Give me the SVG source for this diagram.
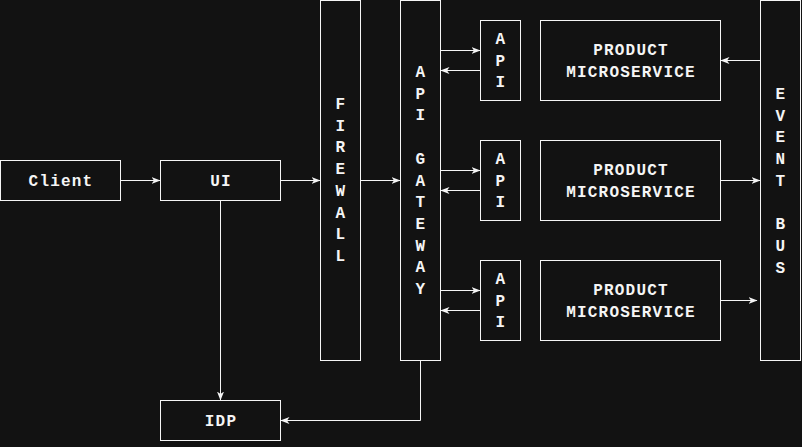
<svg xmlns="http://www.w3.org/2000/svg" width="802" height="447" viewBox="0 0 802 447">
<style>
.n{fill:#121212;stroke:#f5f5f5;stroke-width:1}
.t{fill:#f5f5f5;font-family:"Liberation Mono","Courier New",monospace;font-weight:bold;font-size:16px;letter-spacing:1.2px;text-anchor:middle;dominant-baseline:central}
.c{fill:none;stroke:#f5f5f5;stroke-width:1;marker-end:url(#a)}
</style>
<defs>
<marker id="a" markerUnits="userSpaceOnUse" viewBox="0 0 9 8" refX="8.5" refY="4" markerWidth="9" markerHeight="8" orient="auto">
<path d="M0,0.5 L9,4 L0,7.5 L2.5,4 Z" fill="#f5f5f5"/>
</marker>
</defs>
<rect width="802" height="447" fill="#121212"/>
<g id="connectors">
<path class="c" d="M120.5,180.5 H160"/>
<path class="c" d="M280.5,180.5 H320"/>
<path class="c" d="M360.5,180.5 H400"/>
<path class="c" d="M220.5,200.5 V400"/>
<path class="c" d="M420.5,360.5 V420.5 H281"/>
<path class="c" d="M440.5,50.5 H480"/>
<path class="c" d="M480.5,70.5 H441"/>
<path class="c" d="M440.5,170.5 H480"/>
<path class="c" d="M480.5,190.5 H441"/>
<path class="c" d="M440.5,290.5 H480"/>
<path class="c" d="M480.5,310.5 H441"/>
<path class="c" d="M760.5,60.5 H721"/>
<path class="c" d="M720.5,180.5 H760"/>
<path class="c" d="M720.5,300.5 H757"/>
</g>
<g id="client"><rect class="n" x="0.5" y="160.5" width="120" height="40"/><text class="t" x="61" y="181.5">Client</text></g>
<g id="ui"><rect class="n" x="160.5" y="160.5" width="120" height="40"/><text class="t" x="221" y="181.5">UI</text></g>
<g id="idp"><rect class="n" x="160.5" y="400.5" width="120" height="40"/><text class="t" x="221" y="421.5">IDP</text></g>
<g id="firewall"><rect class="n" x="320.5" y="0.5" width="40" height="360"/>
<text class="t"><tspan x="341" y="105">F</tspan><tspan x="341" y="126.7">I</tspan><tspan x="341" y="148.4">R</tspan><tspan x="341" y="170.1">E</tspan><tspan x="341" y="191.8">W</tspan><tspan x="341" y="213.5">A</tspan><tspan x="341" y="235.2">L</tspan><tspan x="341" y="256.9">L</tspan></text></g>
<g id="gateway"><rect class="n" x="400.5" y="0.5" width="40" height="360"/>
<text class="t"><tspan x="421" y="73">A</tspan><tspan x="421" y="94.7">P</tspan><tspan x="421" y="116.4">I</tspan><tspan x="421" y="159.8">G</tspan><tspan x="421" y="181.5">A</tspan><tspan x="421" y="203.2">T</tspan><tspan x="421" y="224.9">E</tspan><tspan x="421" y="246.6">W</tspan><tspan x="421" y="268.3">A</tspan><tspan x="421" y="290">Y</tspan></text></g>
<g id="api1"><rect class="n" x="480.5" y="20.5" width="40" height="80"/>
<text class="t"><tspan x="501" y="40">A</tspan><tspan x="501" y="61.7">P</tspan><tspan x="501" y="83.4">I</tspan></text></g>
<g id="api2"><rect class="n" x="480.5" y="140.5" width="40" height="80"/>
<text class="t"><tspan x="501" y="160">A</tspan><tspan x="501" y="181.7">P</tspan><tspan x="501" y="203.4">I</tspan></text></g>
<g id="api3"><rect class="n" x="480.5" y="260.5" width="40" height="80"/>
<text class="t"><tspan x="501" y="280">A</tspan><tspan x="501" y="301.7">P</tspan><tspan x="501" y="323.4">I</tspan></text></g>
<g id="product1"><rect class="n" x="540.5" y="20.5" width="180" height="80"/>
<text class="t"><tspan x="631" y="50.5">PRODUCT</tspan><tspan x="631" y="72.5">MICROSERVICE</tspan></text></g>
<g id="product2"><rect class="n" x="540.5" y="140.5" width="180" height="80"/>
<text class="t"><tspan x="631" y="170.5">PRODUCT</tspan><tspan x="631" y="192.5">MICROSERVICE</tspan></text></g>
<g id="product3"><rect class="n" x="540.5" y="260.5" width="180" height="80"/>
<text class="t"><tspan x="631" y="290.5">PRODUCT</tspan><tspan x="631" y="312.5">MICROSERVICE</tspan></text></g>
<g id="eventbus"><rect class="n" x="760.5" y="0.5" width="40" height="360"/>
<text class="t"><tspan x="781" y="95">E</tspan><tspan x="781" y="116.7">V</tspan><tspan x="781" y="138.4">E</tspan><tspan x="781" y="160.1">N</tspan><tspan x="781" y="181.8">T</tspan><tspan x="781" y="225.2">B</tspan><tspan x="781" y="246.9">U</tspan><tspan x="781" y="268.6">S</tspan></text></g>
</svg>
